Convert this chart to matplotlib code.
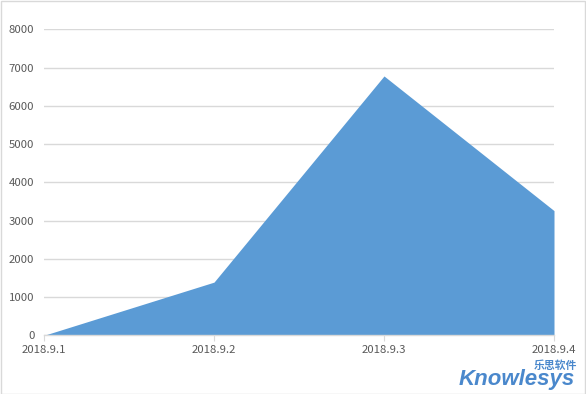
import matplotlib
matplotlib.use("Agg")
import matplotlib.pyplot as plt
from matplotlib.patches import Rectangle

categories = ["2018.9.1", "2018.9.2", "2018.9.3", "2018.9.4"]
values = [0, 1390, 6780, 3260]
y_ticks = [0, 1000, 2000, 3000, 4000, 5000, 6000, 7000, 8000]

W, H = 586, 394
fig = plt.figure(figsize=(W / 100, H / 100), dpi=100)
fig.patch.set_facecolor("white")

left, right, top, bottom = 44, 554, 29.3, 335.3
ax = fig.add_axes([left / W, 1 - bottom / H, (right - left) / W, (bottom - top) / H])

x = list(range(len(categories)))
ax.fill_between(x, values, 0, color="#5B9BD5", linewidth=0, zorder=2)
ax.set_xlim(0, len(categories) - 1)
ax.set_ylim(0, 8000)
ax.set_yticks(y_ticks)
ax.set_yticklabels([str(v) for v in y_ticks])
ax.set_xticks(x)
ax.set_xticklabels(categories)

ax.grid(axis="y", color="#D9D9D9", linewidth=1, zorder=0)
ax.set_axisbelow(True)
for s in ["top", "right", "left"]:
    ax.spines[s].set_visible(False)
ax.spines["bottom"].set_color("#D9D9D9")
ax.spines["bottom"].set_linewidth(1)
ax.tick_params(axis="y", length=0, pad=7, labelsize=8.2, labelcolor="#595959")
ax.tick_params(axis="x", length=4, color="#D9D9D9", pad=3, labelsize=8.2, labelcolor="#595959")
for lab in ax.get_xticklabels() + ax.get_yticklabels():
    lab.set_fontfamily(["Noto Sans CJK SC", "DejaVu Sans"])

# figure border
fig.patches.append(Rectangle((0.5 / W, 0.5 / H), 1 - 1.5 / W, 1 - 1.5 / H,
                             transform=fig.transFigure, fill=False,
                             edgecolor="#D9D9D9", linewidth=1))

# watermark
fig.text(575 / W, 1 - 385 / H, "Knowlesys", ha="right", va="baseline",
         fontsize=16, fontstyle="italic", fontweight="bold", color="#4A88CC",
         family="Liberation Sans")
fig.text(577 / W, 1 - 369 / H, "乐思软件", ha="right", va="baseline",
         fontsize=7.8, fontweight="bold", color="#4A88CC",
         family=["Noto Sans CJK SC", "DejaVu Sans"])

fig.savefig("out.png", dpi=100, facecolor="white")
